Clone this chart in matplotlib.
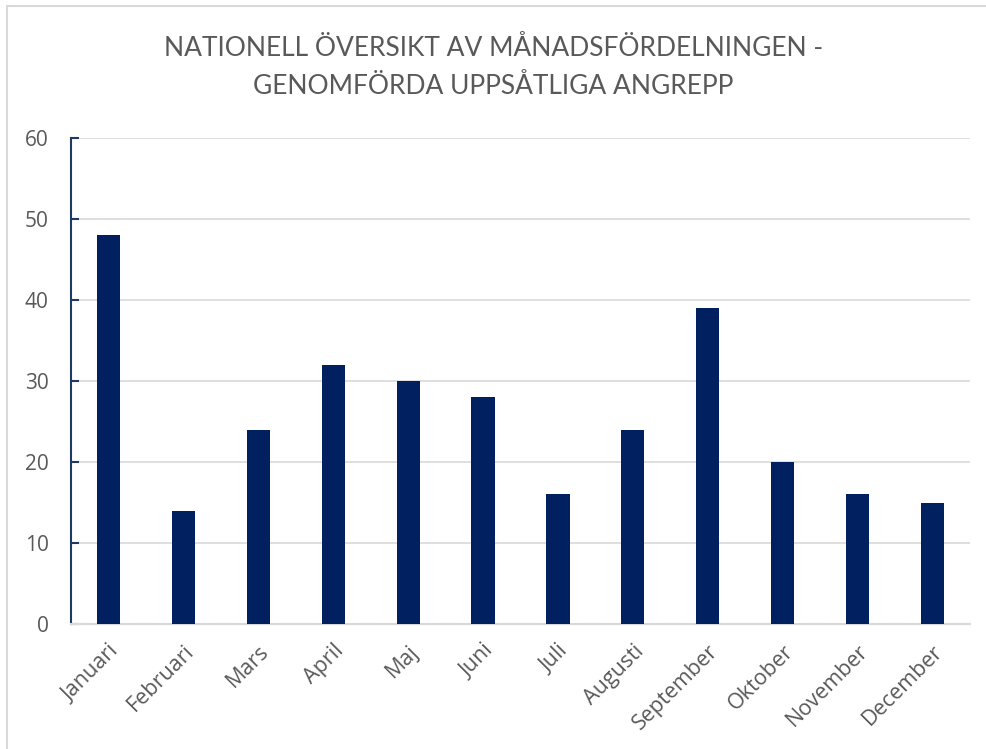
import matplotlib.pyplot as plt
import numpy as np
from matplotlib.patches import Rectangle

months = ['Januari', 'Februari', 'Mars', 'April', 'Maj', 'Juni', 'Juli',
          'Augusti', 'September', 'Oktober', 'November', 'December']
values = [48, 14, 24, 32, 30, 28, 16, 24, 39, 20, 16, 15]
yticks = [0, 10, 20, 30, 40, 50, 60]
title = 'NATIONELL ÖVERSIKT AV MÅNADSFÖRDELNINGEN -\nGENOMFÖRDA UPPSÅTLIGA ANGREPP'

plt.rcParams['font.family'] = ['Open Sans', 'DejaVu Sans']
text_color = '#595959'

fig = plt.figure(figsize=(9.87, 7.49), dpi=100)
# chart frame (only left and top edge visible in the original crop)
fig.patches.append(Rectangle((7 / 987, -0.1), 1.2, (749 - 6) / 749 + 0.1,
                             transform=fig.transFigure, fill=False,
                             edgecolor='#D9D9D9', linewidth=1.5))

ax = fig.add_axes([71 / 987, 1 - 624 / 749, (970 - 71) / 987, (624 - 138) / 749])
x = np.arange(len(months))
ax.bar(x, values, width=0.31, color='#002060', zorder=3)

ax.set_xlim(-0.5, len(months) - 0.5)
ax.set_ylim(0, 60)
ax.set_yticks(yticks)
ax.set_xticks(x)
ax.set_xticklabels(months, rotation=45, ha='right', rotation_mode='anchor',
                   fontsize=15.5, color=text_color)
ax.tick_params(axis='x', length=0, pad=12)
ax.tick_params(axis='y', direction='in', length=6, width=1.5, color='#1F3864',
               labelsize=15, labelcolor=text_color, pad=16)
ax.grid(axis='y', color='#D9D9D9', linewidth=1.2, zorder=0)

for s in ['top', 'right']:
    ax.spines[s].set_visible(False)
ax.spines['left'].set_color('#1F3864')
ax.spines['left'].set_linewidth(1.5)
ax.spines['bottom'].set_color('#D9D9D9')
ax.spines['bottom'].set_linewidth(1.5)

fig.text(0.5, 1 - 67 / 749, title, ha='center', va='center', fontsize=19,
         color=text_color, linespacing=1.65, family=['Lato', 'DejaVu Sans'])

fig.savefig('out.png', dpi=100)
